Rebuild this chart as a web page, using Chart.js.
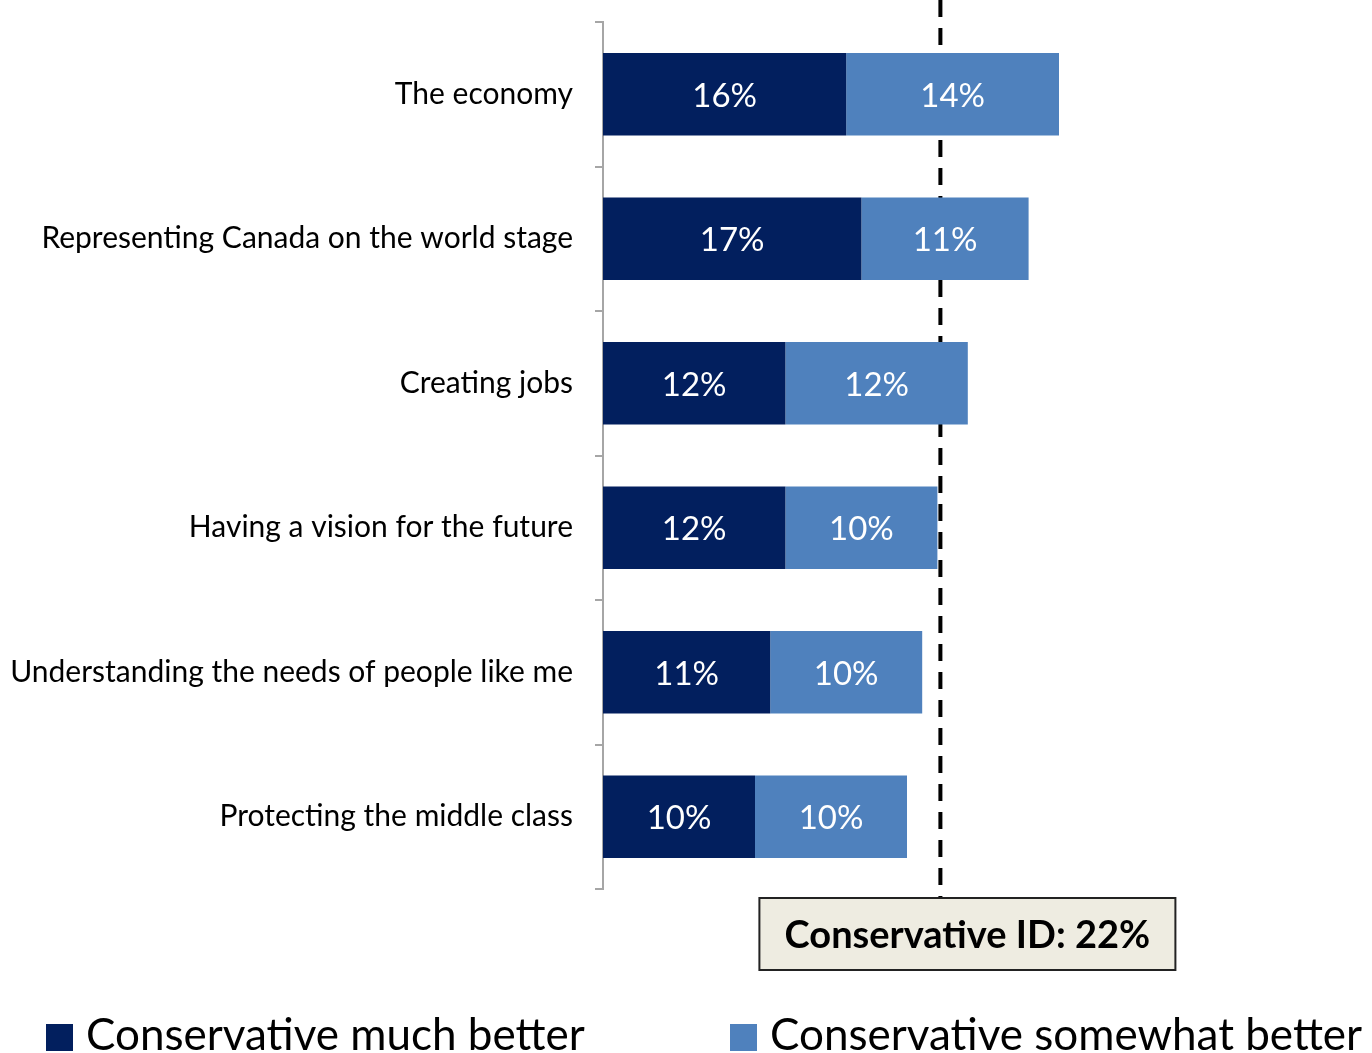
<!DOCTYPE html>
<html>
<head>
<meta charset="utf-8">
<script src="https://cdn.jsdelivr.net/npm/chart.js@4.4.1/dist/chart.umd.min.js"></script>
<style>
  html, body { margin: 0; padding: 0; background: #fff; }
  #wrap { width: 1372px; height: 1053px; }
</style>
</head>
<body>
<div id="wrap"><canvas id="myChart"></canvas></div>
<script>
// chart data
const categories = [
    'The economy',
    'Representing Canada on the world stage',
    'Creating jobs',
    'Having a vision for the future',
    'Understanding the needs of people like me',
    'Protecting the middle class'
];
const muchBetter = [16, 17, 12, 12, 11, 10];
const somewhatBetter = [14, 11, 12, 10, 10, 10];
const conservativeId = 22;
const refLabel = 'Conservative ID: 22%';

const FONT = 'Lato, "Open Sans", sans-serif';

// white % labels centred in each segment
const segmentLabels = {
    id: 'segmentLabels',
    afterDatasetsDraw(chart) {
        const c = chart.ctx;
        c.save();
        c.fillStyle = '#fff';
        c.font = '33px ' + FONT;
        c.textAlign = 'center';
        c.textBaseline = 'middle';
        chart.data.datasets.forEach((ds, i) => {
            chart.getDatasetMeta(i).data.forEach((bar, j) => {
                c.fillText(ds.data[j] + '%', (bar.x + bar.base) / 2, bar.y + 2);
            });
        });
        c.restore();
    }
};

// dashed line sits behind the bars, label box goes on top
const refLine = {
    id: 'refLine',
    beforeDatasetsDraw(chart) {
        const c = chart.ctx;
        const x = chart.scales.x.getPixelForValue(conservativeId) + 3;
        c.save();
        c.strokeStyle = '#000';
        c.lineWidth = 4;
        c.setLineDash([17, 11]);
        c.beginPath();
        c.moveTo(x, 0);
        c.lineTo(x, chart.chartArea.bottom + 9);
        c.stroke();
        c.restore();
    },
    afterDraw(chart) {
        const c = chart.ctx;
        const x = chart.scales.x.getPixelForValue(conservativeId) + 3;
        const top = chart.chartArea.bottom + 9;
        const bx = x - 181, bw = 416, bh = 72;
        c.save();
        c.fillStyle = '#EEECE1';
        c.fillRect(bx, top, bw, bh);
        c.strokeStyle = '#222';
        c.lineWidth = 2;
        c.strokeRect(bx, top, bw, bh);
        c.fillStyle = '#000';
        c.font = 'bold 38px ' + FONT;
        c.textAlign = 'center';
        c.textBaseline = 'middle';
        c.fillText(refLabel, bx + bw / 2, top + bh / 2 + 2);
        c.restore();
    }
};

// legend along the bottom edge
const bottomLegend = {
    id: 'bottomLegend',
    afterDraw(chart) {
        const c = chart.ctx;
        const spots = [46, 730];
        c.save();
        c.font = '44px ' + FONT;
        c.textBaseline = 'alphabetic';
        chart.data.datasets.forEach((ds, i) => {
            c.fillStyle = ds.backgroundColor;
            c.fillRect(spots[i], 1024, 27, 27);
            c.fillStyle = '#000';
            c.fillText(ds.label, spots[i] + 40, 1050);
        });
        c.restore();
    }
};

const ctx = document.getElementById('myChart').getContext('2d');
new Chart(ctx, {
    type: 'bar',
    data: {
        labels: categories,
        datasets: [
            { label: 'Conservative much better', data: muchBetter, backgroundColor: '#021F5E' },
            { label: 'Conservative somewhat better', data: somewhatBetter, backgroundColor: '#4F81BD' }
        ]
    },
    options: {
        indexAxis: 'y',
        responsive: true,
        maintainAspectRatio: false,
        animation: false,
        categoryPercentage: 0.57,
        barPercentage: 1,
        layout: { padding: { top: 22, right: 9, left: 0, bottom: 0 } },
        scales: {
            x: {
                stacked: true,
                min: 0,
                max: 50,
                grid: { display: false },
                border: { display: false },
                ticks: { display: false },
                afterFit(s) { s.height = 164; }
            },
            y: {
                stacked: true,
                afterFit(s) {
                    s.width = 603;
                    s.paddingTop = 0;
                    s.paddingBottom = 0;
                },
                grid: {
                    offset: true,
                    drawOnChartArea: false,
                    color: '#A6A6A6',
                    tickLength: 8,
                    lineWidth: 2
                },
                border: { color: '#A6A6A6', width: 2 },
                ticks: {
                    color: '#000',
                    padding: 22,
                    font: { family: FONT, size: 30 }
                }
            }
        },
        plugins: {
            tooltip: { enabled: false },
            legend: { display: false }
        }
    },
    plugins: [refLine, segmentLabels, bottomLegend]
});
</script>
</body>
</html>
